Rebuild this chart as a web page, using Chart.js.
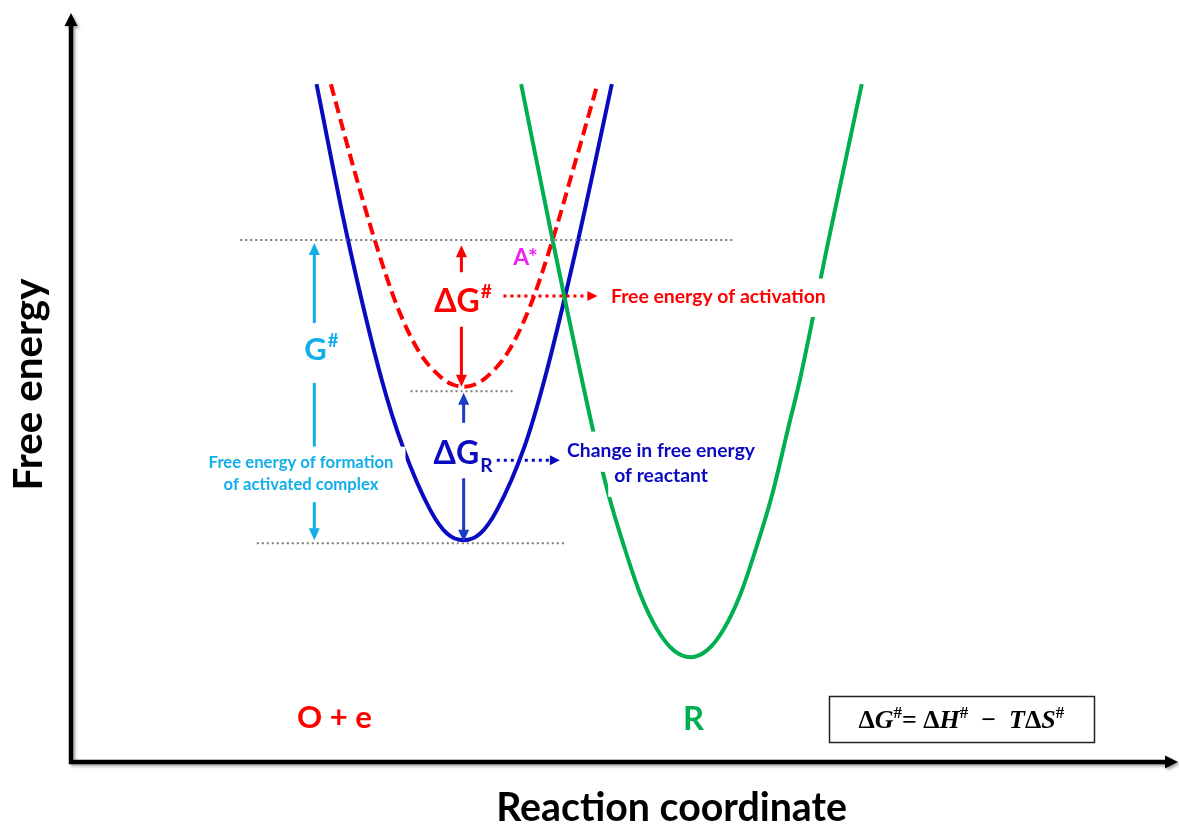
<!DOCTYPE html>
<html>
<head>
<meta charset="utf-8">
<title>Free energy vs reaction coordinate</title>
<script src="https://cdn.jsdelivr.net/npm/chart.js@4"></script>
<style>
  html, body { margin: 0; padding: 0; background: #ffffff; }
  #wrap { width: 1179px; height: 826px; }
</style>
</head>
<body>
<div id="wrap"><canvas id="c" width="1179" height="826"></canvas></div>
<script>
// Free energy (y) against reaction coordinate (x), both in arbitrary units 0–10.

// O + e well (reactant state)
const reactantX = [2.22, 2.50, 2.81, 3.00, 3.25, 3.40, 3.55, 3.70, 3.85, 4.10, 4.28, 4.59, 4.89];
const reactantY = [9.05, 7.00, 5.10, 4.21, 3.36, 3.05, 2.96, 3.05, 3.36, 4.21, 5.10, 7.00, 9.05];

// raised (activated) reactant well, dashed
const activatedX = [2.35, 2.55, 2.75, 2.95, 3.15, 3.35, 3.45, 3.55, 3.65, 3.75, 3.95, 4.15, 4.35, 4.55, 4.76];
const activatedY = [9.05, 7.96, 6.95, 6.08, 5.47, 5.13, 5.04, 5.01, 5.04, 5.13, 5.47, 6.08, 6.95, 7.96, 9.05];

// R well (product state)
const productX = [4.07, 4.35, 4.72, 4.86, 5.00, 5.15, 5.30, 5.45, 5.60, 5.75, 5.90, 6.05, 6.20, 6.34, 6.48, 6.59, 6.85, 7.15];
const productY = [9.05, 7.00, 4.43, 3.57, 2.88, 2.23, 1.77, 1.49, 1.40, 1.49, 1.77, 2.23, 2.88, 3.57, 4.43, 5.10, 6.97, 9.05];

// dotted reference levels: G# (transition), activated minimum, reactant minimum
const levelY    = [6.97, 4.95, 2.92];
const levelFrom = [1.53, 3.07, 1.68];
const levelTo   = [5.99, 4.00, 4.48];

const RED = '#ff0000';
const BLUE = '#0a0ac0';
const BLUE_ARROW = '#1a3cc4';
const GREEN = '#00b050';
const CYAN = '#12aeea';
const MAGENTA = '#ee22ee';
const GREY = '#7a7a7a';
const FAMILY = '"Lato", "Open Sans", sans-serif';
const SERIF = '"Liberation Serif", "DejaVu Serif", serif';

// double-headed energy-gap arrows, split around their symbol labels
const gapArrows = [
  { x: 2.20, lo: 2.96, hi: 6.93, gap: [5.06, 5.86], color: CYAN },
  { x: 3.53, lo: 5.01, hi: 6.90, gap: [5.81, 6.54], color: RED },
  { x: 3.55, lo: 2.94, hi: 4.93, gap: [3.79, 4.53], color: BLUE_ARROW }
];

// dotted pointers from the symbols to their descriptions
const pointers = [
  { x0: 3.91, x1: 4.76, y: 6.22, color: RED },
  { x0: 3.85, x1: 4.42, y: 4.03, color: BLUE }
];

// symbol labels with a superscript or subscript mark
const symbols = [
  { base: 'ΔG', mark: '#', shift: 'sup', x: 3.54, y: 6.01, color: RED, size: 32 },
  { base: 'ΔG', mark: 'R', shift: 'sub', x: 3.54, y: 3.98, color: BLUE, size: 32 },
  { base: 'G', mark: '#', shift: 'sup', x: 2.26, y: 5.37, color: CYAN, size: 31 },
  { base: 'A*', mark: '', shift: 'sup', x: 4.11, y: 6.64, color: MAGENTA, size: 23 }
];

// descriptive text; fit = rendered width of the first line in px
const notes = [
  { lines: ['Free energy of activation'], x: 4.882, y: [6.127], align: 'left', color: RED, fit: 215, box: [6, 9] },
  { lines: ['Change in free energy', 'of reactant'], x: 5.335, y: [4.072, 3.738], align: 'center', color: BLUE, fit: 188, box: [6, 10] },
  { lines: ['Free energy of formation', 'of activated complex'], x: 2.08, y: [3.925, 3.632], align: 'center', color: CYAN, fit: 185, box: [12, 8] },
  { lines: ['O + e'], x: 2.382, y: [0.454], align: 'center', color: RED, fit: 75 },
  { lines: ['R'], x: 5.628, y: [0.427], align: 'center', color: GREEN, fit: 21 }
];

// ΔG# = ΔH# − TΔS#   (n = upright, i = italic, s = superscript)
const equation = [['Δ','n'],['G','i'],['#','s'],['= ','n'],['Δ','n'],['H','i'],['#','s'],['  −  ','n'],['T','i'],['Δ','n'],['S','i'],['#','s']];

const pts = (xs, ys) => xs.map((x, i) => ({ x, y: ys[i] }));

const curve = (data, color, dash) => ({
  data, showLine: true, borderColor: color, borderWidth: 4,
  borderDash: dash || [], pointRadius: 0, cubicInterpolationMode: 'monotone',
  fill: false
});

const levelSets = levelY.map((y, i) => ({
  data: [{ x: levelFrom[i], y }, { x: levelTo[i], y }],
  showLine: true, borderColor: GREY, borderWidth: 2, borderDash: [2, 3],
  pointRadius: 0, fill: false
}));

function head(ctx, x, y, ang, len, half, color) {
  ctx.save();
  ctx.translate(x, y);
  ctx.rotate(ang);
  ctx.beginPath();
  ctx.moveTo(0, 0);
  ctx.lineTo(-len, -half);
  ctx.lineTo(-len, half);
  ctx.closePath();
  ctx.fillStyle = color;
  ctx.fill();
  ctx.restore();
}

function fitPx(ctx, text, width) {
  ctx.font = `bold 100px ${FAMILY}`;
  return 100 * width / ctx.measureText(text).width;
}

const overlay = {
  id: 'overlay',
  afterDatasetsDraw(chart) {
    const { ctx, chartArea: a } = chart;
    const X = v => chart.scales.x.getPixelForValue(v);
    const Y = v => chart.scales.y.getPixelForValue(v);
    ctx.save();

    // energy-gap arrows
    gapArrows.forEach(g => {
      const x = X(g.x), top = Y(g.hi), bot = Y(g.lo);
      const gTop = Y(g.gap[1]), gBot = Y(g.gap[0]);
      ctx.strokeStyle = g.color;
      ctx.lineWidth = 3;
      ctx.setLineDash([]);
      ctx.beginPath();
      ctx.moveTo(x, top + 9); ctx.lineTo(x, gTop);
      ctx.moveTo(x, gBot); ctx.lineTo(x, bot - 9);
      ctx.stroke();
      head(ctx, x, top, -Math.PI / 2, 12, 5.5, g.color);
      head(ctx, x, bot, Math.PI / 2, 12, 5.5, g.color);
    });

    // dotted pointers
    pointers.forEach(p => {
      const y = Y(p.y), x0 = X(p.x0), x1 = X(p.x1);
      ctx.strokeStyle = p.color;
      ctx.lineWidth = 3;
      ctx.setLineDash([3, 4]);
      ctx.beginPath();
      ctx.moveTo(x0, y); ctx.lineTo(x1 - 9, y);
      ctx.stroke();
      ctx.setLineDash([]);
      head(ctx, x1, y, 0, 10, 5, p.color);
    });

    // descriptive text on white backing
    ctx.textBaseline = 'alphabetic';
    notes.forEach(n => {
      const size = fitPx(ctx, n.lines[0], n.fit);
      ctx.font = `bold ${size}px ${FAMILY}`;
      n.lines.forEach((line, i) => {
        const w = ctx.measureText(line).width;
        const bx = n.align === 'center' ? X(n.x) - w / 2 : X(n.x);
        const by = Y(n.y[i]);
        if (n.box) {
          ctx.fillStyle = '#ffffff';
          ctx.fillRect(bx - n.box[0], by - size * 0.8 - n.box[1],
                       w + 2 * n.box[0], size * 1.05 + 2 * n.box[1]);
        }
      });
      ctx.fillStyle = n.color;
      n.lines.forEach((line, i) => {
        const w = ctx.measureText(line).width;
        const bx = n.align === 'center' ? X(n.x) - w / 2 : X(n.x);
        ctx.fillText(line, bx, Y(n.y[i]));
      });
    });

    // symbols with marks
    symbols.forEach(s => {
      const small = s.size * 0.6;
      ctx.font = `bold ${s.size}px ${FAMILY}`;
      const wb = ctx.measureText(s.base).width;
      ctx.font = `bold ${small}px ${FAMILY}`;
      const wm = s.mark ? ctx.measureText(s.mark).width : 0;
      const x0 = X(s.x) - (wb + wm) / 2, y = Y(s.y);
      ctx.fillStyle = s.color;
      ctx.font = `bold ${s.size}px ${FAMILY}`;
      ctx.fillText(s.base, x0, y);
      if (s.mark) {
        ctx.font = `bold ${small}px ${FAMILY}`;
        const rise = s.shift === 'sup' ? s.size * 0.42 : -s.size * 0.24;
        ctx.fillText(s.mark, x0 + wb + 1, y - rise);
      }
    });

    // equation box
    {
      const cx = X(8.05), cy = Y(0.574);
      ctx.strokeStyle = '#222222';
      ctx.lineWidth = 1.5;
      ctx.strokeRect(Math.round(cx - 132.5) + 0.5, Math.round(cy - 23) + 0.5, 265, 46);
      const big = 26, sm = 17;
      const fontOf = k => k === 'i' ? `italic bold ${big}px ${SERIF}` :
                          k === 's' ? `bold ${sm}px ${SERIF}` : `bold ${big}px ${SERIF}`;
      let total = 0;
      equation.forEach(([t, k]) => { ctx.font = fontOf(k); total += ctx.measureText(t).width; });
      let x = cx - total / 2;
      const base = cy + 9;
      ctx.fillStyle = '#000000';
      equation.forEach(([t, k]) => {
        ctx.font = fontOf(k);
        ctx.fillText(t, x, k === 's' ? base - 10 : base);
        x += ctx.measureText(t).width;
      });
    }

    // axes with arrowheads
    ctx.shadowColor = 'rgba(0,0,0,0.35)';
    ctx.shadowOffsetX = 2;
    ctx.shadowOffsetY = 2;
    ctx.shadowBlur = 3;
    ctx.strokeStyle = '#000000';
    ctx.lineWidth = 4.5;
    ctx.setLineDash([]);
    ctx.beginPath();
    ctx.moveTo(a.left, a.bottom + 2);
    ctx.lineTo(a.left, a.top + 12);
    ctx.moveTo(a.left - 2, a.bottom);
    ctx.lineTo(a.right - 10, a.bottom);
    ctx.stroke();
    head(ctx, a.left, a.top, -Math.PI / 2, 13, 6.5, '#000000');
    head(ctx, a.right + 1, a.bottom, 0, 13, 6.5, '#000000');
    ctx.shadowColor = 'transparent';

    // axis titles
    ctx.fillStyle = '#000000';
    const ys = fitPx(ctx, 'Free energy', 212);
    ctx.font = `bold ${ys}px ${FAMILY}`;
    ctx.save();
    ctx.translate(a.left - 29, (a.top + a.bottom) / 2 - 3);
    ctx.rotate(-Math.PI / 2);
    ctx.textAlign = 'center';
    ctx.fillText('Free energy', 0, 0);
    ctx.restore();
    const xs = fitPx(ctx, 'Reaction coordinate', 351);
    ctx.font = `bold ${xs}px ${FAMILY}`;
    ctx.textAlign = 'center';
    ctx.fillText('Reaction coordinate', X(5.43), a.bottom + 59);

    ctx.restore();
  }
};

new Chart(document.getElementById('c'), {
  type: 'scatter',
  data: {
    datasets: [
      ...levelSets,
      curve(pts(productX, productY), GREEN),
      curve(pts(reactantX, reactantY), BLUE),
      curve(pts(activatedX, activatedY), RED, [12, 6])
    ]
  },
  options: {
    responsive: false,
    animation: false,
    devicePixelRatio: 1,
    layout: { padding: { left: 71, top: 13, right: 2, bottom: 64 } },
    scales: {
      x: { type: 'linear', min: 0, max: 10, display: false },
      y: { type: 'linear', min: 0, max: 10, display: false }
    },
    plugins: { legend: { display: false }, tooltip: { enabled: false } }
  },
  plugins: [overlay]
});
</script>
</body>
</html>
